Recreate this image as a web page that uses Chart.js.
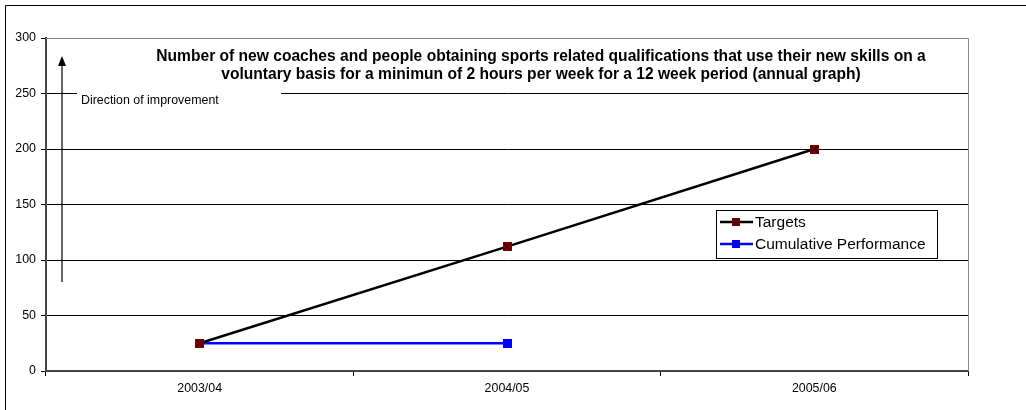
<!DOCTYPE html>
<html>
<head>
<meta charset="utf-8">
<script src="https://cdn.jsdelivr.net/npm/chart.js@4/dist/chart.umd.min.js"></script>
<style>
  html, body { margin: 0; padding: 0; background: #fff; }
  #wrap { width: 1026px; height: 410px; position: relative; }
</style>
</head>
<body>
<div id="wrap"><canvas id="myChart" width="1026" height="410"></canvas></div>
<script>
var years = ["2003/04", "2004/05", "2005/06"];
var targets = [25, 112, 200];
var cumulative = [25, 25, null];
var yTicks = [0, 50, 100, 150, 200, 250, 300];
var titleLines = [
  "Number of new coaches and people obtaining sports related qualifications that use their new skills on a",
  "voluntary basis for a minimun of 2 hours per week for a 12 week period (annual graph)"
];

// square marker with an X for the targets line
function crossSquare() {
  var c = document.createElement("canvas");
  c.width = 9;
  c.height = 9;
  var g = c.getContext("2d");
  g.fillStyle = "#800000";
  g.fillRect(0, 0, 9, 9);
  g.strokeStyle = "#000";
  g.lineWidth = 1;
  g.beginPath();
  g.moveTo(1, 1); g.lineTo(8, 8);
  g.moveTo(8, 1); g.lineTo(1, 8);
  g.stroke();
  return c;
}
function blueSquare() {
  var c = document.createElement("canvas");
  c.width = 9;
  c.height = 9;
  var g = c.getContext("2d");
  g.fillStyle = "#0000ff";
  g.fillRect(0, 0, 9, 9);
  return c;
}
var targetMarker = crossSquare();
var perfMarker = blueSquare();

var extras = {
  id: "extras",
  beforeDatasetsDraw: function (chart) {
    var ctx = chart.ctx;
    var a = chart.chartArea;
    ctx.save();
    // plot frame top and right in grey
    ctx.strokeStyle = "#888";
    ctx.lineWidth = 1;
    ctx.beginPath();
    ctx.moveTo(a.left, a.top + 0.5);
    ctx.lineTo(a.right + 0.5, a.top + 0.5);
    ctx.lineTo(a.right + 0.5, a.bottom);
    ctx.stroke();

    // direction of improvement box + text
    ctx.fillStyle = "#fff";
    ctx.fillRect(77, 86, 204, 18);
    ctx.fillStyle = "#000";
    ctx.font = "12.4px 'Liberation Sans', Arial, sans-serif";
    ctx.textBaseline = "middle";
    ctx.textAlign = "left";
    ctx.fillText("Direction of improvement", 81, 101);

    // arrow
    ctx.strokeStyle = "#000";
    ctx.lineWidth = 1.2;
    ctx.beginPath();
    ctx.moveTo(62, 282);
    ctx.lineTo(62, 64);
    ctx.stroke();
    ctx.beginPath();
    ctx.moveTo(62, 56);
    ctx.lineTo(58, 66);
    ctx.lineTo(66, 66);
    ctx.closePath();
    ctx.fill();

    // title
    ctx.font = "bold 15.6px 'Liberation Sans', Arial, sans-serif";
    ctx.textAlign = "center";
    ctx.fillText(titleLines[0], 541, 57);
    ctx.fillText(titleLines[1], 541, 75);
    ctx.restore();
  },
  afterDraw: function (chart) {
    var ctx = chart.ctx;
    ctx.save();
    // outer frame
    ctx.strokeStyle = "#000";
    ctx.lineWidth = 1;
    ctx.beginPath();
    ctx.moveTo(5.5, 410);
    ctx.lineTo(5.5, 5.5);
    ctx.lineTo(1026, 5.5);
    ctx.stroke();

    // legend
    var lx = 716, ly = 210, lw = 221, lh = 48;
    ctx.fillStyle = "#fff";
    ctx.fillRect(lx, ly, lw, lh);
    ctx.strokeStyle = "#000";
    ctx.strokeRect(lx + 0.5, ly + 0.5, lw, lh);
    ctx.font = "15.5px 'Liberation Sans', Arial, sans-serif";
    ctx.textAlign = "left";
    ctx.textBaseline = "middle";
    chart.data.datasets.forEach(function (ds, i) {
      var y = ly + 12 + i * 22;
      ctx.strokeStyle = ds.borderColor;
      ctx.lineWidth = 2.5;
      ctx.beginPath();
      ctx.moveTo(720, y);
      ctx.lineTo(753, y);
      ctx.stroke();
      ctx.drawImage(ds.pointStyle, 736 - 4, y - 4, 8, 8);
      ctx.fillStyle = "#000";
      ctx.fillText(ds.label, 755, y + 1);
    });
    ctx.restore();
  }
};

new Chart("myChart", {
  type: "line",
  data: {
    labels: years,
    datasets: [
      {
        label: "Targets",
        data: targets,
        borderColor: "#000",
        borderWidth: 2.5,
        pointStyle: targetMarker,
        pointRadius: 4.5,
        tension: 0
      },
      {
        label: "Cumulative Performance",
        data: cumulative,
        borderColor: "#0000ff",
        borderWidth: 2.5,
        pointStyle: perfMarker,
        pointRadius: 4.5,
        tension: 0
      }
    ]
  },
  options: {
    responsive: false,
    animation: false,
    layout: { padding: { top: 38, right: 58, left: 0, bottom: 0 } },
    plugins: {
      legend: { display: false },
      tooltip: { enabled: false }
    },
    scales: {
      x: {
        offset: true,
        grid: {
          offset: true,
          drawOnChartArea: false,
          drawTicks: true,
          tickLength: 5,
          color: "#000"
        },
        border: { color: "#444", width: 2 },
        ticks: {
          color: "#000",
          padding: 5,
          font: { family: "'Liberation Sans', Arial, sans-serif", size: 12.4 }
        },
        afterFit: function (s) { s.height = 39; }
      },
      y: {
        min: 0,
        max: 300,
        afterBuildTicks: function (s) {
          s.ticks = yTicks.map(function (v) { return { value: v }; });
        },
        grid: {
          color: function (c) { return c.tick && c.tick.value === 300 ? "#888" : "#000"; },
          lineWidth: 1,
          tickLength: 5,
          tickColor: "#000"
        },
        border: { color: "#444", width: 2 },
        ticks: {
          color: "#000",
          padding: 5,
          font: { family: "'Liberation Sans', Arial, sans-serif", size: 12.4 }
        },
        afterFit: function (s) { s.width = 46; }
      }
    }
  },
  plugins: [extras]
});
</script>
</body>
</html>
